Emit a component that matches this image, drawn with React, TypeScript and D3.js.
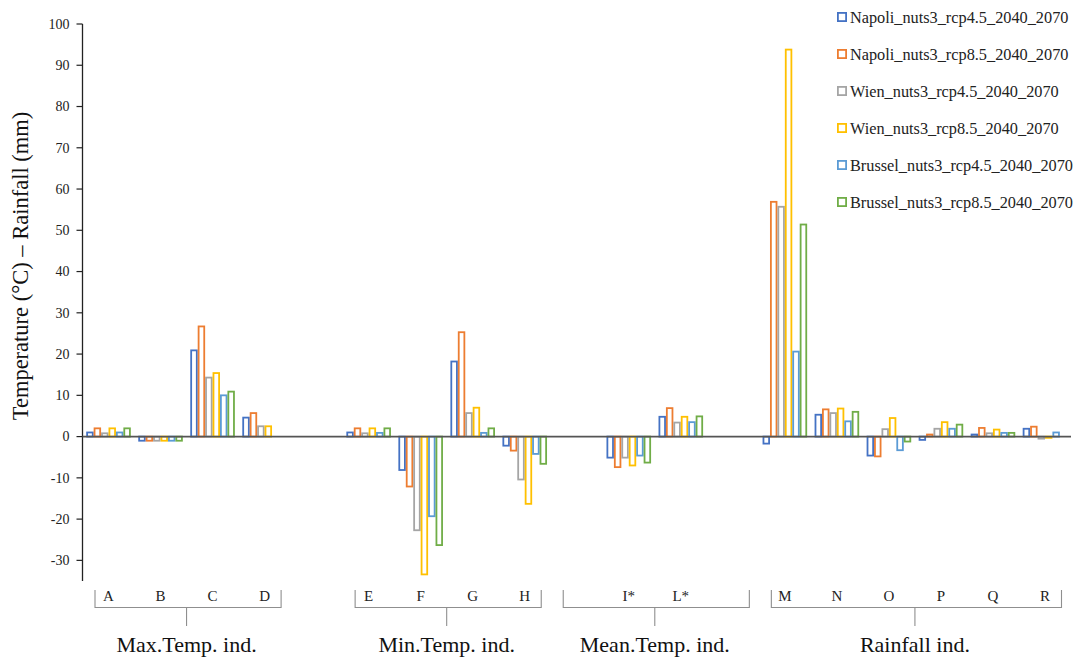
import React from "react";
import * as d3 from "d3";

const categories = ["A", "B", "C", "D", "", "E", "F", "G", "H", "", "I*", "L*", "", "M", "N", "O", "P", "Q", "R"];
const seriesNames = [
  "Napoli_nuts3_rcp4.5_2040_2070",
  "Napoli_nuts3_rcp8.5_2040_2070",
  "Wien_nuts3_rcp4.5_2040_2070",
  "Wien_nuts3_rcp8.5_2040_2070",
  "Brussel_nuts3_rcp4.5_2040_2070",
  "Brussel_nuts3_rcp8.5_2040_2070",
];
const seriesColors = ["#4472C4", "#ED7D31", "#A5A5A5", "#FFC000", "#5B9BD5", "#70AD47"];

const napoli45 = [1, -1, 20.9, 4.6, null, 1, -8.1, 18.2, -2.2, null, -5.1, 4.8, null, -1.7, 5.3, -4.6, -0.8, 0.5, 1.9];
const napoli85 = [2, -1, 26.7, 5.7, null, 2, -12.1, 25.3, -3.4, null, -7.4, 6.9, null, 56.9, 6.6, -4.8, 0.5, 2.1, 2.4];
const wien45 = [0.8, -1, 14.3, 2.5, null, 0.8, -22.7, 5.7, -10.4, null, -5.1, 3.4, null, 55.7, 5.7, 1.8, 1.9, 0.8, -0.5];
const wien85 = [2, -1, 15.4, 2.5, null, 2, -33.4, 7.0, -16.3, null, -7.0, 4.8, null, 93.8, 6.8, 4.5, 3.5, 1.7, -0.3];
const brussel45 = [1, -1, 10, 0, null, 0.9, -19.3, 0.9, -4.2, null, -4.6, 3.5, null, 20.6, 3.7, -3.3, 1.9, 0.9, 1.0];
const brussel85 = [2, -1, 10.9, 0, null, 2, -26.3, 2, -6.6, null, -6.3, 4.9, null, 51.4, 6.0, -1.2, 2.9, 0.9, 0];
const seriesValues = [napoli45, napoli85, wien45, wien85, brussel45, brussel85];

const yTicks = [-30, -20, -10, 0, 10, 20, 30, 40, 50, 60, 70, 80, 90, 100];
const groupNames = ["Max.Temp. ind.", "Min.Temp. ind.", "Mean.Temp. ind.", "Rainfall ind."];
const groupStart = [0, 5, 9, 13];
const groupEnd = [3, 8, 12, 18];

const FONT = "'Times New Roman', 'Liberation Serif', Tinos, 'DejaVu Serif', serif";
const tf = { fontFamily: FONT };

export default function App() {
  const W = 1077, H = 658;
  const left = 82.5, right = 1071, top = 24, bottom = 581;
  const idx = categories.map((_, i) => String(i));
  const x0 = d3.scaleBand().domain(idx).range([left, right]).paddingInner(0).paddingOuter(0);
  const x1 = d3.scaleBand().domain(seriesNames).range([0, x0.bandwidth()]).paddingInner(0).paddingOuter(0.5);
  const y = d3.scaleLinear().domain([-35, 100]).range([bottom, top]);
  const bw = x1.bandwidth();

  const bars: any[] = [];
  seriesValues.forEach((vals, s) => {
    vals.forEach((v, i) => {
      if (v === null || v === 0) return;
      const xx = (x0(String(i)) as number) + (x1(seriesNames[s]) as number);
      const y0 = y(0), yv = y(v);
      bars.push(
        <rect key={`b${s}-${i}`} x={xx + 0.9} width={bw - 1.8} y={Math.min(y0, yv)} height={Math.abs(yv - y0)}
          fill="#fff" stroke={seriesColors[s]} strokeWidth={1.8} />
      );
    });
  });

  return (
    <svg width={W} height={H} style={{ position: "absolute", left: 0, top: 0, background: "#fff", fontFamily: FONT }}>
      <rect x={0} y={0} width={W} height={H} fill="#fff" />
      <line x1={left} x2={left} y1={top} y2={bottom} stroke="#222" strokeWidth={1.3} />
      {yTicks.map((t) => (
        <g key={`t${t}`}>
          <line x1={left - 6} x2={left} y1={y(t)} y2={y(t)} stroke="#222" strokeWidth={1.2} />
          <text style={tf} x={left - 13} y={y(t)} dy="0.35em" textAnchor="end" fontSize={14} fill="#222">{t}</text>
        </g>
      ))}
      <text style={tf} transform={`translate(28,${266}) rotate(-90)`} textAnchor="middle" fontSize={22.5} fill="#111">
        Temperature (°C) – Rainfall (mm)
      </text>
      {bars}
      <line x1={left} x2={right} y1={y(0)} y2={y(0)} stroke="#555" strokeWidth={1.6} />
      {categories.map((c, i) => (
        <text style={tf} key={`c${i}`} x={(x0(String(i)) as number) + x0.bandwidth() / 2} y={596} dy="0.35em" textAnchor="middle" fontSize={15} fill="#222">{c}</text>
      ))}
      {groupNames.map((g, k) => {
        const a = (x0(String(groupStart[k])) as number) + 12.5;
        const b = (x0(String(groupEnd[k])) as number) + x0.bandwidth() - 9.5;
        const m = ((x0(String(groupStart[k])) as number) + (x0(String(groupEnd[k])) as number) + x0.bandwidth()) / 2;
        return (
          <g key={`g${k}`}>
            <path d={`M${a},590V607.5H${b}V590`} fill="none" stroke="#8f8f8f" strokeWidth={1.1} />
            <line x1={m} x2={m} y1={607.5} y2={626} stroke="#8f8f8f" strokeWidth={1.1} />
            <text style={tf} x={m} y={644} dy="0.35em" textAnchor="middle" fontSize={22} fill="#111">{g}</text>
          </g>
        );
      })}
      {seriesNames.map((n, s) => (
        <g key={`l${s}`} transform={`translate(837,${17 + s * 37})`}>
          <rect x={0.9} y={-4.1} width={8.2} height={8.2} fill="#fff" stroke={seriesColors[s]} strokeWidth={1.8} />
          <text style={tf} x={13} y={0} dy="0.35em" fontSize={16.3} fill="#222">{n}</text>
        </g>
      ))}
    </svg>
  );
}
